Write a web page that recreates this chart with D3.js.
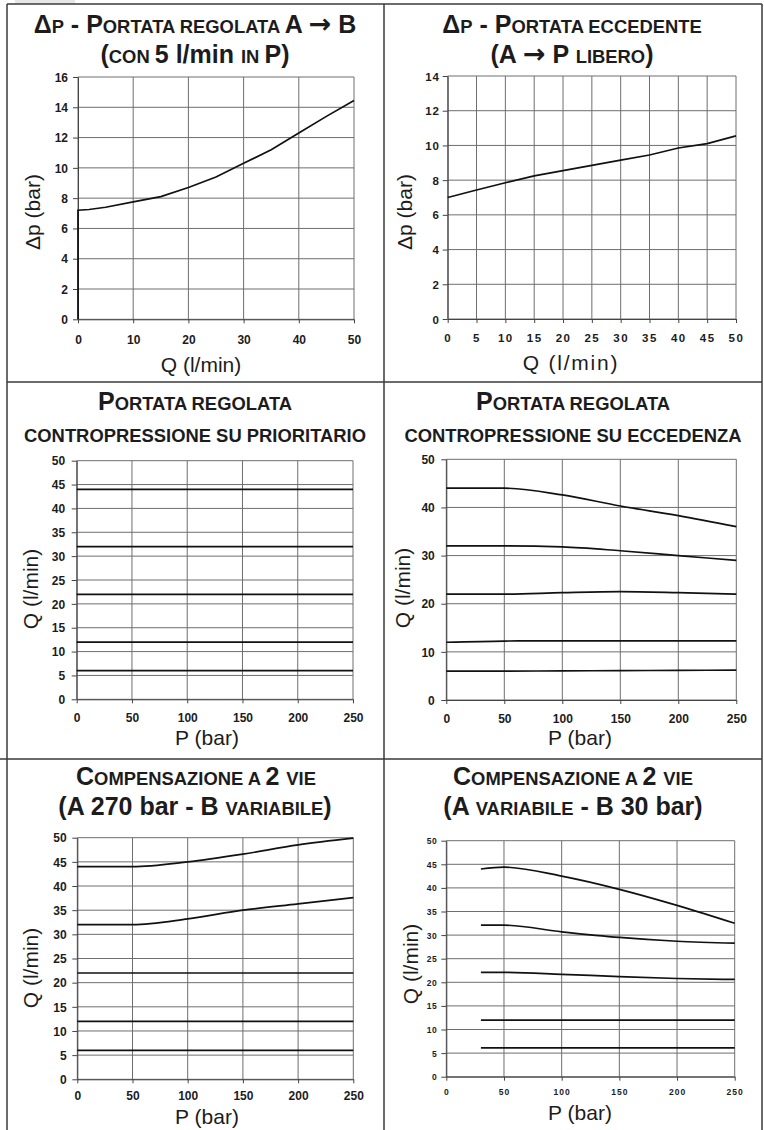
<!DOCTYPE html>
<html><head><meta charset="utf-8">
<script src="https://cdn.jsdelivr.net/npm/d3@7"></script>
<style>
body{margin:0;background:#fff}
svg{display:block}
text{font-family:"Liberation Sans",Arial,Helvetica,sans-serif;white-space:pre}
</style></head>
<body><svg id="c" width="764" height="1130"></svg>
<script>
// ---------- DATA ----------
// Panel 1: Δp - Portata regolata A→B (con 5 l/min in P)
const p1Q  = [0, 0, 2, 5, 10, 15, 20, 25, 30, 35, 40, 45, 50];
const p1Dp = [0, 7.2, 7.25, 7.4, 7.75, 8.1, 8.7, 9.4, 10.3, 11.2, 12.3, 13.4, 14.45];
const p1XTicks = [0, 10, 20, 30, 40, 50];
const p1YTicks = [0, 2, 4, 6, 8, 10, 12, 14, 16];

// Panel 2: Δp - Portata eccedente (A→P libero)
const p2Q  = [0, 5, 10, 15, 20, 25, 30, 35, 40, 45, 50];
const p2Dp = [7.0, 7.43, 7.85, 8.25, 8.55, 8.85, 9.15, 9.45, 9.85, 10.1, 10.55];
const p2XTicks = [0, 5, 10, 15, 20, 25, 30, 35, 40, 45, 50];
const p2YTicks = [0, 2, 4, 6, 8, 10, 12, 14];

// Panel 3: Portata regolata, contropressione su prioritario
const p3P = [0, 250];
const p3Series = [[44, 44], [32, 32], [22, 22], [12, 12], [6, 6]];

// Panel 4: Portata regolata, contropressione su eccedenza
const p4P = [0, 50, 100, 150, 200, 250];
const p4Series = [
  [44, 44, 42.6, 40.3, 38.3, 36],
  [32, 32, 31.8, 31, 30, 29],
  [22, 22, 22.3, 22.5, 22.3, 22],
  [12, 12.25, 12.3, 12.3, 12.3, 12.3],
  [6, 6, 6.05, 6.1, 6.15, 6.2]
];

// Panel 5: Compensazione a 2 vie (A 270 bar - B variabile)
const p5P = [0, 50, 100, 150, 200, 250];
const p5Series = [
  [44, 44, 45, 46.6, 48.5, 49.9],
  [32, 32, 33.2, 35, 36.3, 37.6],
  [22, 22, 22, 22, 22, 22],
  [12, 12, 12, 12, 12, 12],
  [6, 6, 6, 6, 6, 6]
];

// Panel 6: Compensazione a 2 vie (A variabile - B 30 bar)
const p6P = [30, 50, 100, 150, 200, 250];
const p6Series = [
  [44, 44.4, 42.5, 39.7, 36.3, 32.5],
  [32.1, 32.1, 30.7, 29.5, 28.7, 28.3],
  [22.1, 22.1, 21.7, 21.2, 20.8, 20.6],
  [12, 12, 12, 12, 12, 12],
  [6.1, 6.1, 6.1, 6.1, 6.1, 6.1]
];

const pXTicks = [0, 50, 100, 150, 200, 250];
const qTicks5 = [0, 5, 10, 15, 20, 25, 30, 35, 40, 45, 50];
const qTicks10 = [0, 10, 20, 30, 40, 50];

// ---------- DRAW ----------
const svg = d3.select("#c");
const FRAME = "#3a3a3a";

// top-left grey patch
svg.append("rect").attr("x", 15).attr("y", 0).attr("width", 60).attr("height", 4).attr("fill", "#e6e6e6");

// frame
const frameLines = [
  [7, 4, 762, 4], [7, 4, 7, 1130], [762, 4, 762, 1130], [384, 4, 384, 1130],
  [7, 382, 762, 382], [0, 759, 762, 759]
];
svg.selectAll("line.frame").data(frameLines).join("line").attr("class", "frame")
  .attr("x1", d => d[0]).attr("y1", d => d[1]).attr("x2", d => d[2]).attr("y2", d => d[3])
  .attr("stroke", FRAME).attr("stroke-width", 1.5);

const BIG = 25, SMALL = 18.4;
// segment kinds: 1 = big, 0 = small caps, 2 = arrow
function title(cx, baseline, segs) {
  const t = svg.append("text").attr("x", cx).attr("y", baseline)
    .attr("text-anchor", "middle").attr("font-weight", "bold").attr("fill", "#1c1c1c");
  segs.forEach(([s, k]) => {
    const ts = t.append("tspan").attr("font-size", k === 0 ? SMALL : BIG).text(s);
    if (k === 2) ts.attr("font-family", '"DejaVu Sans",sans-serif').attr("font-size", 27);
  });
}

function panel(cfg) {
  const x = d3.scaleLinear().domain(cfg.xd).range(cfg.xr);
  const y = d3.scaleLinear().domain(cfg.yd).range(cfg.yr);
  const g = svg.append("g");
  // grid
  g.selectAll("line.vg").data(cfg.xt).join("line")
    .attr("x1", d => x(d)).attr("x2", d => x(d)).attr("y1", cfg.yr[0]).attr("y2", cfg.yr[1])
    .attr("stroke", "#6e6e6e").attr("stroke-width", 1);
  g.selectAll("line.hg").data(cfg.yt).join("line")
    .attr("y1", d => y(d)).attr("y2", d => y(d)).attr("x1", cfg.xr[0]).attr("x2", cfg.xr[1])
    .attr("stroke", "#6e6e6e").attr("stroke-width", 1);
  // axes
  const ax = g.append("g").attr("transform", `translate(0,${cfg.yr[0]})`)
    .call(d3.axisBottom(x).tickValues(cfg.xt).tickSize(4).tickSizeOuter(0).tickFormat(d3.format("d")));
  ax.selectAll("text").attr("y", cfg.xlOff).attr("dy", "0.35em");
  const ay = g.append("g").attr("transform", `translate(${cfg.xr[0]},0)`)
    .call(d3.axisLeft(y).tickValues(cfg.yt).tickSize(5).tickSizeOuter(0).tickFormat(d3.format("d")));
  ay.selectAll("text").attr("x", -cfg.ylOff).attr("dy", "0.35em");
  [ax, ay].forEach(a => {
    a.select(".domain").attr("stroke", "#444");
    a.selectAll(".tick line").attr("stroke", "#444");
    a.selectAll("text").attr("font-family", '"Liberation Sans",Arial,sans-serif')
      .attr("font-weight", "bold").attr("fill", "#1c1c1c").attr("font-size", cfg.tf);
  });
  ax.selectAll("text").attr("letter-spacing", cfg.xls || 0);
  ay.selectAll("text").attr("letter-spacing", cfg.yls || 0);
  // series
  const line = d3.line().x(d => x(d[0])).y(d => y(d[1])).curve(cfg.curve || d3.curveLinear);
  cfg.series.forEach(s => {
    const pts = s.x.map((v, i) => [v, s.y[i]]);
    g.append("path").attr("d", line(pts)).attr("fill", "none")
      .attr("stroke", "#111").attr("stroke-width", 1.7);
  });
  // axis titles
  svg.append("text").attr("transform", `translate(${cfg.ytx},${cfg.yty}) rotate(-90)`)
    .attr("text-anchor", "middle").attr("font-size", 21).attr("fill", "#1c1c1c").text(cfg.ylab);
  svg.append("text").attr("x", cfg.xtx).attr("y", cfg.xty).attr("text-anchor", "middle")
    .attr("font-size", 21).attr("fill", "#1c1c1c").attr("letter-spacing", cfg.xtls || 0).text(cfg.xlab);
}

// Panel 1
title(195, 33, [["Δ", 1], ["P", 0], [" - ", 1], ["P", 1], ["ORTATA REGOLATA ", 0], ["A ", 1], ["→", 2], [" B", 1]]);
title(195, 63, [["(", 1], ["CON ", 0], ["5 l/min ", 1], ["IN ", 0], ["P)", 1]]);
panel({xd: [0, 50], yd: [0, 16], xr: [78, 354], yr: [319.3, 77], xt: p1XTicks, yt: p1YTicks,
  series: [{x: p1Q, y: p1Dp}], tf: 12, xlOff: 20.7, ylOff: 10,
  ylab: "Δp (bar)", ytx: 40, yty: 212, xlab: "Q (l/min)", xtx: 201, xty: 372});

// Panel 2
title(572, 33, [["Δ", 1], ["P", 0], [" - ", 1], ["P", 1], ["ORTATA ECCEDENTE", 0]]);
title(572, 63, [["(A ", 1], ["→", 2], [" P ", 1], ["LIBERO", 0], [")", 1]]);
panel({xd: [0, 50], yd: [0, 14], xr: [447.7, 736], yr: [319, 76], xt: p2XTicks, yt: p2YTicks,
  series: [{x: p2Q, y: p2Dp}], tf: 11.5, xlOff: 19, ylOff: 8, xls: 1.5, yls: 0.8,
  ylab: "Δp (bar)", ytx: 412, yty: 212, xlab: "Q (l/min)", xtx: 571, xty: 370, xtls: 1.8});

// Panel 3
title(195, 410, [["P", 1], ["ORTATA REGOLATA", 0]]);
title(195, 442, [["CONTROPRESSIONE SU PRIORITARIO", 0]]);
panel({xd: [0, 250], yd: [0, 50], xr: [76.7, 353], yr: [699.3, 460.7], xt: pXTicks, yt: qTicks5,
  series: p3Series.map(s => ({x: p3P, y: s})), tf: 12, xlOff: 19, ylOff: 11.5,
  ylab: "Q (l/min)", ytx: 38, yty: 589, xlab: "P (bar)", xtx: 207, xty: 745});

// Panel 4
title(573, 410, [["P", 1], ["ORTATA REGOLATA", 0]]);
title(573, 442, [["CONTROPRESSIONE SU ECCEDENZA", 0]]);
panel({xd: [0, 250], yd: [0, 50], xr: [446.3, 736.3], yr: [700, 459.3], xt: pXTicks, yt: qTicks10,
  series: p4Series.map(s => ({x: p4P, y: s})), tf: 12, xlOff: 18.3, ylOff: 11.5, curve: d3.curveMonotoneX,
  ylab: "Q (l/min)", ytx: 410, yty: 588, xlab: "P (bar)", xtx: 580, xty: 745});

// Panel 5
title(196, 785, [["C", 1], ["OMPENSAZIONE A ", 0], ["2 ", 1], ["VIE", 0]]);
title(195, 815, [["(A 270 bar - B ", 1], ["VARIABILE", 0], [")", 1]]);
panel({xd: [0, 250], yd: [0, 50], xr: [77.3, 353.3], yr: [1079.3, 837.7], xt: pXTicks, yt: qTicks5,
  series: p5Series.map(s => ({x: p5P, y: s})), tf: 12, xlOff: 17, ylOff: 10.6, curve: d3.curveMonotoneX,
  ylab: "Q (l/min)", ytx: 38, yty: 968, xlab: "P (bar)", xtx: 207, xty: 1124});

// Panel 6
title(573, 785, [["C", 1], ["OMPENSAZIONE A ", 0], ["2 ", 1], ["VIE", 0]]);
title(573, 815, [["(A ", 1], ["VARIABILE", 0], [" - B 30 bar)", 1]]);
panel({xd: [0, 250], yd: [0, 50], xr: [446.3, 734.7], yr: [1076.7, 840.7], xt: pXTicks, yt: qTicks5,
  series: p6Series.map(s => ({x: p6P, y: s})), tf: 8.5, xlOff: 15, ylOff: 9, xls: 1, yls: 0.5,
  curve: d3.curveMonotoneX,
  ylab: "Q (l/min)", ytx: 418, yty: 964, xlab: "P (bar)", xtx: 580, xty: 1120});
</script></body></html>
